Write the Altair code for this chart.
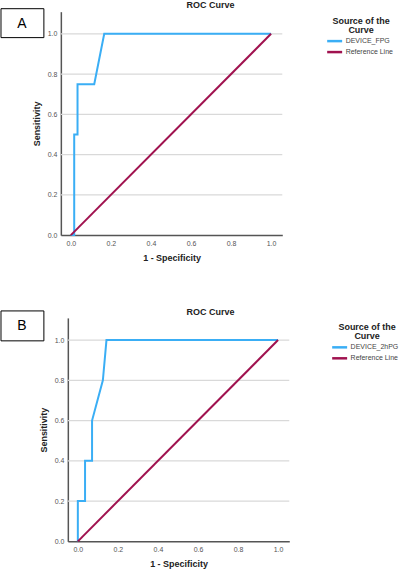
import altair as alt
import pandas as pd

# ---- data ----
a_name = "DEVICE_FPG"
a_fpr = [0.0, 0.0167, 0.0167, 0.0333, 0.0333, 0.1167, 0.1667, 1.0]
a_tpr = [0.0, 0.0, 0.5, 0.5, 0.75, 0.75, 1.0, 1.0]

b_name = "DEVICE_2hPG"
b_fpr = [0.0, 0.0, 0.036, 0.036, 0.071, 0.071, 0.125, 0.143, 1.0]
b_tpr = [0.0, 0.2, 0.2, 0.4, 0.4, 0.6, 0.8, 1.0, 1.0]

ref_name = "Reference Line"
ref_x = [0.0, 1.0]
ref_y = [0.0, 1.0]

tick_vals = [0.0, 0.2, 0.4, 0.6, 0.8, 1.0]
grid_vals = [0.2, 0.4, 0.6, 0.8, 1.0]
chart_title = "ROC Curve"

BLUE = "#3aaef5"
MAROON = "#a0124f"
FONT = "Liberation Sans"
W = 222


def panel(name, fpr, tpr, letter, shift, box_y, box_y2, txt_y, title_y, leg_x):
    rows = []
    for i, (x, y) in enumerate(zip(fpr, tpr)):
        rows.append({"x": x, "y": y, "series": name, "o": i})
    for i, (x, y) in enumerate(zip(ref_x, ref_y)):
        rows.append({"x": x, "y": y, "series": ref_name, "o": i})
    df = pd.DataFrame(rows)

    xscale = alt.Scale(domain=[-0.05, 1.056], nice=False, zero=False,
                       range=[shift, shift + W])
    yscale = alt.Scale(domain=[0, 1.11], nice=False)

    grid = alt.Chart(pd.DataFrame({"y": grid_vals})).mark_rule(
        color="#d9d9d9", strokeWidth=1.3
    ).encode(
        y=alt.Y("y:Q", scale=yscale,
                axis=alt.Axis(values=tick_vals, format=".1f", title="Sensitivity",
                              grid=False, ticks=False, labelFontSize=7, labelColor="#555",
                              labelPadding=4, titleFontSize=9, titleFontWeight="bold",
                              titlePadding=6, domainColor="#555", domainWidth=1.5,
                              offset=-shift,
                              labelFont=FONT, titleFont=FONT, titleColor="#222")),
        x=alt.value(shift), x2=alt.value(shift + W),
    )

    lines = alt.Chart(df).mark_line(strokeWidth=2, clip=False).encode(
        x=alt.X("x:Q", scale=xscale,
                axis=alt.Axis(values=tick_vals, format=".1f", title="1 - Specificity",
                              grid=False, ticks=False, labelFontSize=7, labelColor="#555",
                              labelPadding=4, titleFontSize=9, titleFontWeight="bold",
                              titlePadding=7, domainColor="#555", domainWidth=1.5,
                              labelFont=FONT, titleFont=FONT, titleColor="#222")),
        y=alt.Y("y:Q", scale=yscale),
        color=alt.Color("series:N",
                        scale=alt.Scale(domain=[name, ref_name], range=[BLUE, MAROON]),
                        legend=alt.Legend(title=["Source of the", "Curve"],
                                          orient="none", legendX=leg_x, legendY=5,
                                          titleFontSize=9, titleFontWeight="bold",
                                          titleFont=FONT, titleColor="#222",
                                          titleAlign="center", titleAnchor="middle",
                                          titleLineHeight=9, titlePadding=2,
                                          symbolType="M-2.5,0H2.5", symbolSize=36,
                                          symbolStrokeWidth=2.5, labelFontSize=7,
                                          labelFont=FONT, labelColor="#444",
                                          labelOffset=6.5, rowPadding=0)),
        order="o:Q",
    )

    one = pd.DataFrame({"k": [letter], "t": [chart_title]})
    box = alt.Chart(one).mark_rect(fill="white", stroke="black", strokeWidth=1).encode(
        x=alt.value(-60), x2=alt.value(-17), y=alt.value(box_y), y2=alt.value(box_y2)
    )
    txt = alt.Chart(one).mark_text(fontSize=14, font=FONT, color="black",
                                   align="center", baseline="middle").encode(
        x=alt.value(-39), y=alt.value(txt_y), text="k:N"
    )
    ttl = alt.Chart(one).mark_text(fontSize=9, font=FONT, fontWeight="bold", color="#222",
                                   align="center", baseline="middle").encode(
        x=alt.value(150), y=alt.value(title_y), text="t:N"
    )

    return alt.layer(grid, lines, box, txt, ttl).properties(width=shift + W, height=224)


pa = panel(a_name, a_fpr, a_tpr, "A", 0, -3, 26, 12, -7, 270)
pb = panel(b_name, b_fpr, b_tpr, "B", 7, -7, 23, 8, -6, 275)

chart = alt.vconcat(pa, pb, spacing=46).resolve_scale(
    color="independent"
).configure(padding=0, background="white").configure_view(stroke=None)

chart.save("out.html", embed_options={"renderer": "svg", "actions": False})
